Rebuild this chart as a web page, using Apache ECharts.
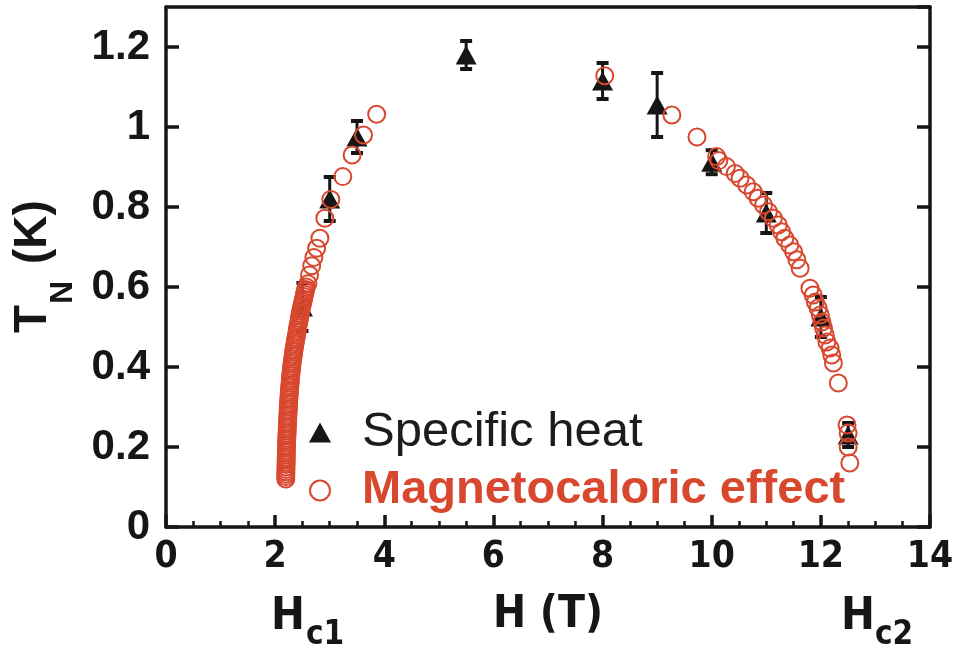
<!DOCTYPE html>
<html><head><meta charset="utf-8">
<script src="https://cdn.jsdelivr.net/npm/echarts@6/dist/echarts.min.js"></script>
<style>html,body{margin:0;padding:0;background:#fff}#c{width:960px;height:647px}</style>
</head><body><div id="c"></div>
<script>
// Specific heat (black triangles with error bars)
const shH   = [2.5, 3.0, 3.5, 5.5, 8.0, 9.0, 10.0, 11.0, 12.0, 12.5];
const shT   = [0.55, 0.82, 0.975, 1.18, 1.115, 1.055, 0.912, 0.785, 0.525, 0.23];
const shErr = [0.06, 0.055, 0.04, 0.035, 0.045, 0.08, 0.03, 0.05, 0.05, 0.03];

// Magnetocaloric effect (red open circles), low-field branch
const mceLowH = [3.86, 3.62, 3.41, 3.24, 3.02, 2.91, 2.82, 2.76, 2.71, 2.67, 2.63, 2.60,
  2.57, 2.56, 2.55, 2.54, 2.53, 2.52, 2.51, 2.50, 2.49, 2.48, 2.47, 2.46, 2.455, 2.445, 2.44, 2.43,
  2.42, 2.415, 2.405, 2.40, 2.39, 2.385, 2.375, 2.37, 2.36, 2.355, 2.345, 2.34, 2.335, 2.33, 2.32,
  2.315, 2.31, 2.305, 2.30, 2.295, 2.29, 2.285, 2.28, 2.278, 2.275, 2.27, 2.267, 2.263, 2.26, 2.257,
  2.254, 2.25, 2.248, 2.245, 2.243, 2.24, 2.238, 2.235, 2.233, 2.23, 2.228, 2.226, 2.224, 2.222,
  2.22, 2.218, 2.216, 2.214, 2.212, 2.21, 2.209, 2.207, 2.206, 2.205, 2.204, 2.203, 2.202, 2.201,
  2.20, 2.199, 2.198, 2.197, 2.196, 2.195, 2.195];
const mceLowT = [1.032, 0.980, 0.930, 0.876, 0.819, 0.772, 0.722, 0.697, 0.674, 0.653, 0.630, 0.608,
  0.600, 0.594, 0.588, 0.582, 0.576, 0.570, 0.564, 0.558, 0.552, 0.546, 0.540, 0.534, 0.528, 0.522, 0.516, 0.510,
  0.504, 0.498, 0.492, 0.486, 0.480, 0.474, 0.468, 0.462, 0.456, 0.450, 0.444, 0.438, 0.432, 0.426, 0.420,
  0.414, 0.408, 0.402, 0.396, 0.390, 0.384, 0.378, 0.372, 0.366, 0.360, 0.354, 0.348, 0.342, 0.336, 0.330,
  0.324, 0.318, 0.312, 0.306, 0.300, 0.294, 0.288, 0.282, 0.276, 0.270, 0.264, 0.258, 0.252, 0.246,
  0.240, 0.234, 0.228, 0.222, 0.216, 0.210, 0.204, 0.198, 0.192, 0.186, 0.180, 0.174, 0.168, 0.162,
  0.156, 0.150, 0.144, 0.138, 0.132, 0.126, 0.120];

// Magnetocaloric effect, high-field branch
const mceHighH = [8.04, 9.27, 9.73, 10.09, 10.13, 10.27, 10.43, 10.52, 10.64, 10.76, 10.85, 10.95, 11.04,
  11.13, 11.22, 11.28, 11.34, 11.43, 11.50, 11.56, 11.62, 11.80, 11.86, 11.90, 11.95, 11.99, 12.02, 12.05,
  12.08, 12.11, 12.17, 12.20, 12.23, 12.32, 12.48, 12.50, 12.50, 12.53];
const mceHighT = [1.128, 1.030, 0.975, 0.926, 0.916, 0.901, 0.884, 0.872, 0.855, 0.838, 0.822, 0.805, 0.788,
  0.772, 0.755, 0.738, 0.722, 0.705, 0.688, 0.668, 0.647, 0.597, 0.580, 0.5625, 0.5475, 0.530, 0.5125, 0.4975,
  0.480, 0.4625, 0.4475, 0.430, 0.410, 0.360, 0.255, 0.235, 0.200, 0.160];

const xTickLabels = ['0', '2', '4', '6', '8', '10', '12', '14'];
const yTickLabels = ['0', '0.2', '0.4', '0.6', '0.8', '1', '1.2'];

const RED = '#d8482f';
const BLACK = '#161616';
const narrow = "'Liberation Sans Narrow', 'DejaVu Sans Condensed', sans-serif";
const sans = "'Liberation Sans', Arial, sans-serif";

const shData = shH.map((h, i) => [h, shT[i]]);
const errData = shH.map((h, i) => [h, shT[i], shErr[i]]);
const mceData = mceLowH.map((h, i) => [h, mceLowT[i]])
  .concat(mceHighH.map((h, i) => [h, mceHighT[i]]));

function fmtFrom(list) {
  return function (v) {
    const s = String(Math.round(v * 1000) / 1000);
    return list.indexOf(s) >= 0 ? s : '';
  };
}

function txt(text, x, y, size, fam, opts) {
  return Object.assign({
    type: 'text', x: x, y: y, silent: true,
    style: { text: text, fill: BLACK, font: 'bold ' + size + 'px ' + fam, align: 'left', verticalAlign: 'middle' }
  }, opts || {});
}
const ROT = Math.PI / 2;

const chart = echarts.init(document.getElementById('c'), null, { renderer: 'canvas' });
chart.setOption({
  animation: false,
  backgroundColor: '#fff',
  grid: { left: 166, right: 30, top: 7, bottom: 120, containLabel: false },
  xAxis: [{
    type: 'value', min: 0, max: 14, interval: 2, position: 'bottom',
    axisLine: { show: true, onZero: false, lineStyle: { color: BLACK, width: 3.5 } },
    axisTick: { show: true, inside: true, length: 12, lineStyle: { color: BLACK, width: 3.5 } },
    minorTick: { show: true, splitNumber: 4, length: 6, lineStyle: { color: BLACK, width: 2.5 } },
    splitLine: { show: false },
    axisLabel: { formatter: fmtFrom(xTickLabels), margin: 12, color: BLACK, fontSize: 37, fontWeight: 'bold', fontFamily: narrow },
    name: 'H (T)', nameLocation: 'middle', nameGap: 67,
    nameTextStyle: { color: BLACK, fontSize: 44, fontWeight: 'bold', fontFamily: narrow }
  }, {
    type: 'value', min: 0, max: 14, position: 'top',
    axisLine: { show: true, onZero: false, lineStyle: { color: BLACK, width: 3.5 } },
    axisTick: { show: false }, axisLabel: { show: false }, splitLine: { show: false }
  }],
  yAxis: [{
    type: 'value', min: 0, max: 1.3, interval: 0.2, position: 'left',
    axisLine: { show: true, onZero: false, lineStyle: { color: BLACK, width: 3.5 } },
    axisTick: { show: true, inside: true, length: 13, lineStyle: { color: BLACK, width: 3.5 } },
    splitLine: { show: false },
    axisLabel: { formatter: fmtFrom(yTickLabels), showMaxLabel: false, margin: 16, color: BLACK, fontSize: 42, fontWeight: 'bold', fontFamily: sans }
  }, {
    type: 'value', min: 0, max: 1.3, interval: 0.2, position: 'right',
    axisLine: { show: true, onZero: false, lineStyle: { color: BLACK, width: 3.5 } },
    axisTick: { show: true, inside: true, length: 13, lineStyle: { color: BLACK, width: 3.5 } },
    axisLabel: { show: false }, splitLine: { show: false }
  }],
  legend: {
    orient: 'vertical', left: 304, top: 403, itemWidth: 22, itemHeight: 20, itemGap: 10,
    selectedMode: false,
    data: [
      { name: 'Specific heat', icon: 'triangle', itemStyle: { color: BLACK },
        textStyle: { color: '#1c1c1c', fontSize: 49, fontFamily: sans, padding: [0, 0, 0, 26] } },
      { name: 'Magnetocaloric effect', icon: 'circle',
        itemStyle: { color: 'rgba(0,0,0,0)', borderColor: RED, borderWidth: 2 },
        textStyle: { color: RED, fontSize: 47, fontWeight: 'bold', fontFamily: sans, padding: [0, 0, 0, 26] } }
    ]
  },
  graphic: [
    // y-axis title T_N (K), rotated
    txt('T', 33, 333, 46, sans, { rotation: ROT }),
    txt('N', 63, 304, 32, sans, { rotation: ROT }),
    txt('(K)', 33, 264, 46, sans, { rotation: ROT }),
    // critical fields under the x axis
    txt('H', 271, 617, 45, narrow),
    txt('c1', 306, 635, 33, narrow),
    txt('H', 841, 617, 45, narrow),
    txt('c2', 875, 635, 33, narrow)
  ],
  series: [
    {
      name: 'errorbars', type: 'custom', xAxisIndex: 0, yAxisIndex: 0, z: 2,
      data: errData,
      renderItem: function (params, api) {
        const x = api.value(0), y = api.value(1), e = api.value(2);
        const top = api.coord([x, y + e]);
        const bot = api.coord([x, y - e]);
        const w = 6;
        return { type: 'group', children: [
          { type: 'line', shape: { x1: top[0], y1: top[1], x2: bot[0], y2: bot[1] }, style: { stroke: BLACK, lineWidth: 3 } },
          { type: 'line', shape: { x1: top[0] - w, y1: top[1], x2: top[0] + w, y2: top[1] }, style: { stroke: BLACK, lineWidth: 4 } },
          { type: 'line', shape: { x1: bot[0] - w, y1: bot[1], x2: bot[0] + w, y2: bot[1] }, style: { stroke: BLACK, lineWidth: 4 } }
        ] };
      }
    },
    {
      name: 'Specific heat', type: 'scatter', z: 3, symbol: 'triangle', symbolSize: [21, 19],
      itemStyle: { color: BLACK, opacity: 1 },
      data: shData
    },
    {
      name: 'Magnetocaloric effect', type: 'scatter', z: 4, symbol: 'circle', symbolSize: 17,
      itemStyle: { color: 'rgba(0,0,0,0)', borderColor: RED, borderWidth: 2, opacity: 1 },
      data: mceData
    }
  ]
});
</script></body></html>
